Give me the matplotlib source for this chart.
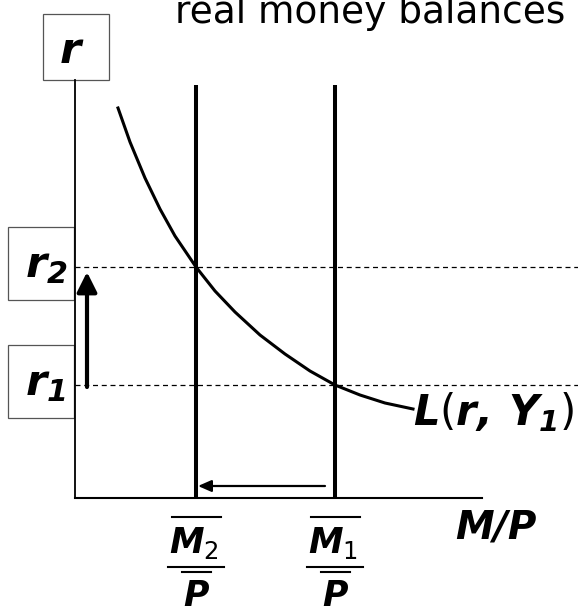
import matplotlib
matplotlib.use("Agg")
import matplotlib.pyplot as plt
from matplotlib.patches import Rectangle

# chart units: origin at the corner of the axes, one unit = one pixel
money_supply = [260, 121]          # M1/P, M2/P
money_labels = [r"$M_\mathsf{1}$", r"$M_\mathsf{2}$"]
rates = [113, 231]                 # r1, r2
rate_labels = [r"$r_1$", r"$r_2$"]
demand_x = [43, 55, 70, 85, 100, 121, 140, 160, 185, 210, 235, 260, 285, 310, 338]
demand_y = [390, 356, 320, 289, 262, 231, 207, 186, 163, 144, 127, 113, 103, 95, 89]

plt.rcParams['font.family'] = 'DejaVu Sans'
plt.rcParams['mathtext.fontset'] = 'custom'
plt.rcParams['mathtext.it'] = 'DejaVu Sans:italic:bold'
plt.rcParams['mathtext.rm'] = 'DejaVu Sans:italic:bold'
plt.rcParams['mathtext.bf'] = 'DejaVu Sans:italic:bold'
plt.rcParams['mathtext.sf'] = 'DejaVu Sans'

fig = plt.figure(figsize=(5.78, 6.1), dpi=100)
ax = fig.add_axes([0, 0, 1, 1])
ax.set_xlim(-75, 503)
ax.set_ylim(-112, 498)
ax.axis('off')

# axes
ax.plot([0, 0], [0, 418], color='black', lw=1.3)
ax.plot([0, 407], [0, 0], color='black', lw=1.5)

# money supply lines
for m in money_supply:
    ax.plot([m, m], [0, 413], color='black', lw=2.9, solid_capstyle='butt')

# money demand curve
ax.plot(demand_x, demand_y, color='black', lw=2.2)

# interest rate levels
for r in rates:
    ax.plot([0, 503], [r, r], color='black', lw=0.9, linestyle=(0, (4, 3)))

# arrows
ax.annotate('', xy=(12, rates[1] - 5), xytext=(12, rates[0] - 2),
            arrowprops=dict(arrowstyle='-|>,head_width=0.3,head_length=0.6',
                            lw=3, color='black', mutation_scale=20,
                            shrinkA=0, shrinkB=0))
ax.annotate('', xy=(money_supply[1] + 2, 12), xytext=(money_supply[0] - 10, 12),
            arrowprops=dict(arrowstyle='-|>,head_width=0.35,head_length=0.8',
                            lw=1.6, color='black', mutation_scale=10,
                            shrinkA=0, shrinkB=0))

# boxes and axis labels
ax.add_patch(Rectangle((-32, 418), 66, 66, fill=False, edgecolor='#555555', lw=0.9))
ax.text(-5, 435, 'r', fontsize=31, fontweight='bold', fontstyle='italic',
        ha='center', va='baseline')
for r, lab in zip(rates, rate_labels):
    ax.add_patch(Rectangle((-67, r - 33), 66, 73, fill=False, edgecolor='#555555', lw=0.9))
    ax.text(-50, r - 10, lab, fontsize=31, ha='left', va='baseline')

ax.text(338, demand_y[-1] - 16, r"$L\mathsf{(}r,\,Y_1\mathsf{)}$", fontsize=30,
        ha='left', va='baseline')
ax.text(380, -40, 'M/P', fontsize=28, fontweight='bold', fontstyle='italic',
        ha='left', va='baseline')

for m, lab in zip(money_supply, money_labels):
    ax.text(m - 2, -55, lab, fontsize=25, ha='center', va='baseline')
    ax.plot([m - 24, m + 25], [-19, -19], color='black', lw=1.5)
    ax.plot([m - 28, m + 28], [-69, -69], color='black', lw=1.5)
    ax.plot([m - 14, m + 15], [-74, -74], color='black', lw=1.5)
    ax.text(m, -108, 'P', fontsize=25, fontweight='bold', fontstyle='italic',
            ha='center', va='baseline')

ax.text(100, 475, 'real money balances', fontsize=27, ha='left', va='baseline')

fig.savefig('out.png', dpi=100)
